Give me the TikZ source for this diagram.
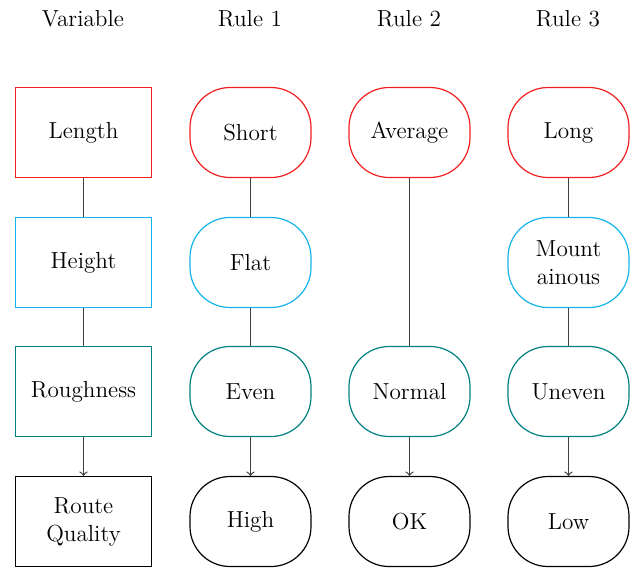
\documentclass[tikz,border=0pt]{standalone}
\definecolor{cred}{RGB}{240,30,30}
\definecolor{ccyan}{RGB}{20,180,235}
\definecolor{cteal}{RGB}{0,128,128}
\begin{document}
\begin{tikzpicture}[x=0.5pt,y=-0.5pt,
  font=\fontsize{11.6}{14}\selectfont,
  line width=0.6pt,
  varbox/.style={rectangle,minimum width=68pt,minimum height=45pt,align=center,inner sep=2pt},
  rulebox/.style={rectangle,rounded corners=20pt,minimum width=60.5pt,minimum height=45pt,align=center,inner sep=2pt},
  conn/.style={draw=black!75},
  arr/.style={conn,->},
  hdr/.style={inner sep=0pt}]
\useasboundingbox (0,0) rectangle (630,568);
% headers
\node[hdr] (h0) at (83,19) {Variable};
\node[hdr] (h1) at (250,19) {Rule 1};
\node[hdr] (h2) at (409,19) {Rule 2};
\node[hdr] (h3) at (568,19) {Rule 3};
% variable column
\node[varbox,draw=cred] (len) at (83.5,132.5) {Length};
\node[varbox,draw=ccyan] (hei) at (83.5,262.5) {Height};
\node[varbox,draw=cteal] (rou) at (83.5,391.5) {Roughness};
\node[varbox,draw=black] (rq) at (83.5,521.5) {Route\\Quality};
% rule 1
\node[rulebox,draw=cred] (short) at (250.5,132.5) {Short};
\node[rulebox,draw=ccyan] (flat) at (250.5,262.5) {Flat};
\node[rulebox,draw=cteal] (even) at (250.5,391.5) {Even};
\node[rulebox,draw=black] (high) at (250.5,521.5) {High};
% rule 2
\node[rulebox,draw=cred] (avg) at (409.5,132.5) {Average};
\node[rulebox,draw=cteal] (norm) at (409.5,391.5) {Normal};
\node[rulebox,draw=black] (ok) at (409.5,521.5) {OK};
% rule 3
\node[rulebox,draw=cred] (long) at (568.5,132.5) {Long};
\node[rulebox,draw=ccyan] (mount) at (568.5,262.5) {Mount\\ainous};
\node[rulebox,draw=cteal] (uneven) at (568.5,391.5) {Uneven};
\node[rulebox,draw=black] (low) at (568.5,521.5) {Low};
% connectors
\draw[conn] (len) -- (hei);
\draw[conn] (hei) -- (rou);
\draw[arr] (rou) -- (rq);
\draw[conn] (short) -- (flat);
\draw[conn] (flat) -- (even);
\draw[arr] (even) -- (high);
\draw[conn] (avg) -- (norm);
\draw[arr] (norm) -- (ok);
\draw[conn] (long) -- (mount);
\draw[conn] (mount) -- (uneven);
\draw[arr] (uneven) -- (low);
\end{tikzpicture}
\end{document}
